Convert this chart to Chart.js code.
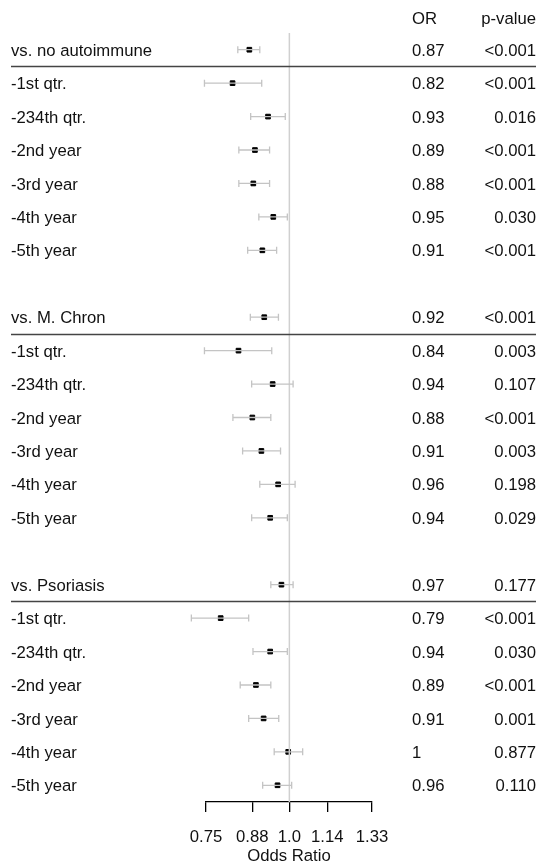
<!DOCTYPE html>
<html>
<head>
<meta charset="utf-8">
<script src="https://cdn.jsdelivr.net/npm/chart.js@4.4.1/dist/chart.umd.min.js"></script>
<style>
  html, body { margin: 0; padding: 0; background: #fff; }
  #wrap { width: 540px; height: 866px; position: relative; }
</style>
</head>
<body>
<div id="wrap"><canvas id="forest"></canvas></div>
<script>
// rows top to bottom, null = blank spacer row
const ROW_LABELS = [
    "vs. no autoimmune", "-1st qtr.", "-234th qtr.", "-2nd year", "-3rd year", "-4th year", "-5th year",
    null,
    "vs. M. Chron", "-1st qtr.", "-234th qtr.", "-2nd year", "-3rd year", "-4th year", "-5th year",
    null,
    "vs. Psoriasis", "-1st qtr.", "-234th qtr.", "-2nd year", "-3rd year", "-4th year", "-5th year"
];
const OR_EST = [0.871, 0.822, 0.929, 0.888, 0.883, 0.946, 0.911, null,
                0.917, 0.839, 0.944, 0.880, 0.908, 0.962, 0.936, null,
                0.973, 0.789, 0.936, 0.891, 0.915, 0.996, 0.960];
const CI_LOW = [0.837, 0.746, 0.875, 0.840, 0.840, 0.900, 0.866, null,
                0.874, 0.746, 0.878, 0.823, 0.851, 0.903, 0.878, null,
                0.938, 0.713, 0.882, 0.844, 0.869, 0.949, 0.912];
const CI_HIGH = [0.903, 0.909, 0.986, 0.934, 0.934, 0.993, 0.957, null,
                 0.963, 0.941, 1.013, 0.938, 0.970, 1.020, 0.993, null,
                 1.013, 0.869, 0.993, 0.938, 0.964, 1.047, 1.008];
const OR_TEXT = ["0.87", "0.82", "0.93", "0.89", "0.88", "0.95", "0.91", null,
                 "0.92", "0.84", "0.94", "0.88", "0.91", "0.96", "0.94", null,
                 "0.97", "0.79", "0.94", "0.89", "0.91", "1", "0.96"];
const P_TEXT = ["<0.001", "<0.001", "0.016", "<0.001", "<0.001", "0.030", "<0.001", null,
                "<0.001", "0.003", "0.107", "<0.001", "0.003", "0.198", "0.029", null,
                "0.177", "<0.001", "0.030", "<0.001", "0.001", "0.877", "0.110"];
const HEADER_ROWS = [0, 8, 16];
const TICK_VALUES = [0.75, 0.88, 1.0, 1.14, 1.33];
const TICK_LABELS = ["0.75", "0.88", "1.0", "1.14", "1.33"];
const REF_OR = 1;

const FONT = "'Liberation Sans', Arial, Helvetica, sans-serif";
const FONT_SIZE = 16.7;
const TEXT_COLOR = "#111";

const nRows = ROW_LABELS.length;

// whiskers + side table
const forestExtras = {
    id: "forestExtras",
    afterDatasetDraw(chart, args) {
        if (args.index !== 0) return;
        const { ctx, scales: { x, y } } = chart;
        ctx.save();
        ctx.strokeStyle = "#c4c4c4";
        ctx.lineWidth = 1.3;
        for (let i = 0; i < nRows; i++) {
            if (CI_LOW[i] == null) continue;
            const py = y.getPixelForValue(i);
            const x0 = x.getPixelForValue(CI_LOW[i]);
            const x1 = x.getPixelForValue(CI_HIGH[i]);
            ctx.beginPath();
            ctx.moveTo(x0, py); ctx.lineTo(x1, py);
            ctx.moveTo(x0, py - 3.5); ctx.lineTo(x0, py + 3.5);
            ctx.moveTo(x1, py - 3.5); ctx.lineTo(x1, py + 3.5);
            ctx.stroke();
        }
        ctx.restore();
    },
    afterDraw(chart) {
        const { ctx, scales: { y } } = chart;
        const xLabel = 11, xOR = 412, xP = 536;
        ctx.save();
        ctx.font = `${FONT_SIZE}px ${FONT}`;
        ctx.fillStyle = TEXT_COLOR;
        ctx.textBaseline = "middle";

        const hy = y.getPixelForValue(-1) + 3;
        ctx.textAlign = "left";
        ctx.fillText("OR", xOR, hy);
        ctx.textAlign = "right";
        ctx.fillText("p-value", xP, hy);

        for (let i = 0; i < nRows; i++) {
            if (ROW_LABELS[i] == null) continue;
            const py = y.getPixelForValue(i) + 1.5;
            ctx.textAlign = "left";
            ctx.fillText(ROW_LABELS[i], xLabel, py);
            ctx.fillText(OR_TEXT[i], xOR, py);
            ctx.textAlign = "right";
            ctx.fillText(P_TEXT[i], xP, py);
        }

        ctx.strokeStyle = "#444";
        ctx.lineWidth = 1.3;
        HEADER_ROWS.forEach(h => {
            const ly = Math.round(y.getPixelForValue(h + 0.5)) + 0.5;
            ctx.beginPath();
            ctx.moveTo(xLabel, ly);
            ctx.lineTo(xP, ly);
            ctx.stroke();
        });
        ctx.restore();
    }
};

const pointData = [];
for (let i = 0; i < nRows; i++) {
    if (OR_EST[i] != null) pointData.push({ x: OR_EST[i], y: i });
}

new Chart(document.getElementById("forest"), {
    type: "scatter",
    data: {
        datasets: [
            {
                type: "line",
                data: [{ x: REF_OR, y: -0.5 }, { x: REF_OR, y: nRows - 0.5 }],
                borderColor: "#d0d0d0",
                borderWidth: 1.5,
                pointRadius: 0,
                clip: false
            },
            {
                data: pointData,
                pointStyle: "rect",
                pointRadius: 3.3,
                pointHoverRadius: 3.3,
                backgroundColor: "#000",
                borderColor: "#000",
                borderWidth: 1
            }
        ]
    },
    options: {
        responsive: true,
        maintainAspectRatio: false,
        animation: false,
        events: [],
        layout: { padding: { left: 206, right: 168, top: 33, bottom: 0 } },
        plugins: { legend: { display: false }, tooltip: { enabled: false } },
        scales: {
            x: {
                type: "logarithmic",
                min: 0.75,
                max: 1.33,
                afterBuildTicks: s => { s.ticks = TICK_VALUES.map(v => ({ value: v })); },
                afterFit: s => { s.height = 64; },
                ticks: {
                    autoSkip: false,
                    maxRotation: 0,
                    padding: 15,
                    color: TEXT_COLOR,
                    font: { family: FONT, size: FONT_SIZE },
                    callback: (v) => TICK_LABELS[TICK_VALUES.indexOf(v)]
                },
                grid: {
                    drawOnChartArea: false,
                    drawTicks: true,
                    tickLength: 10,
                    color: "#000",
                    lineWidth: 1.3
                },
                border: { display: true, color: "#000", width: 1.3 },
                title: {
                    display: true,
                    text: "Odds Ratio",
                    color: TEXT_COLOR,
                    font: { family: FONT, size: FONT_SIZE },
                    padding: { top: 0, bottom: 0 }
                }
            },
            y: {
                type: "linear",
                display: false,
                reverse: true,
                min: -0.5,
                max: nRows - 0.5
            }
        }
    },
    plugins: [forestExtras]
});
</script>
</body>
</html>
